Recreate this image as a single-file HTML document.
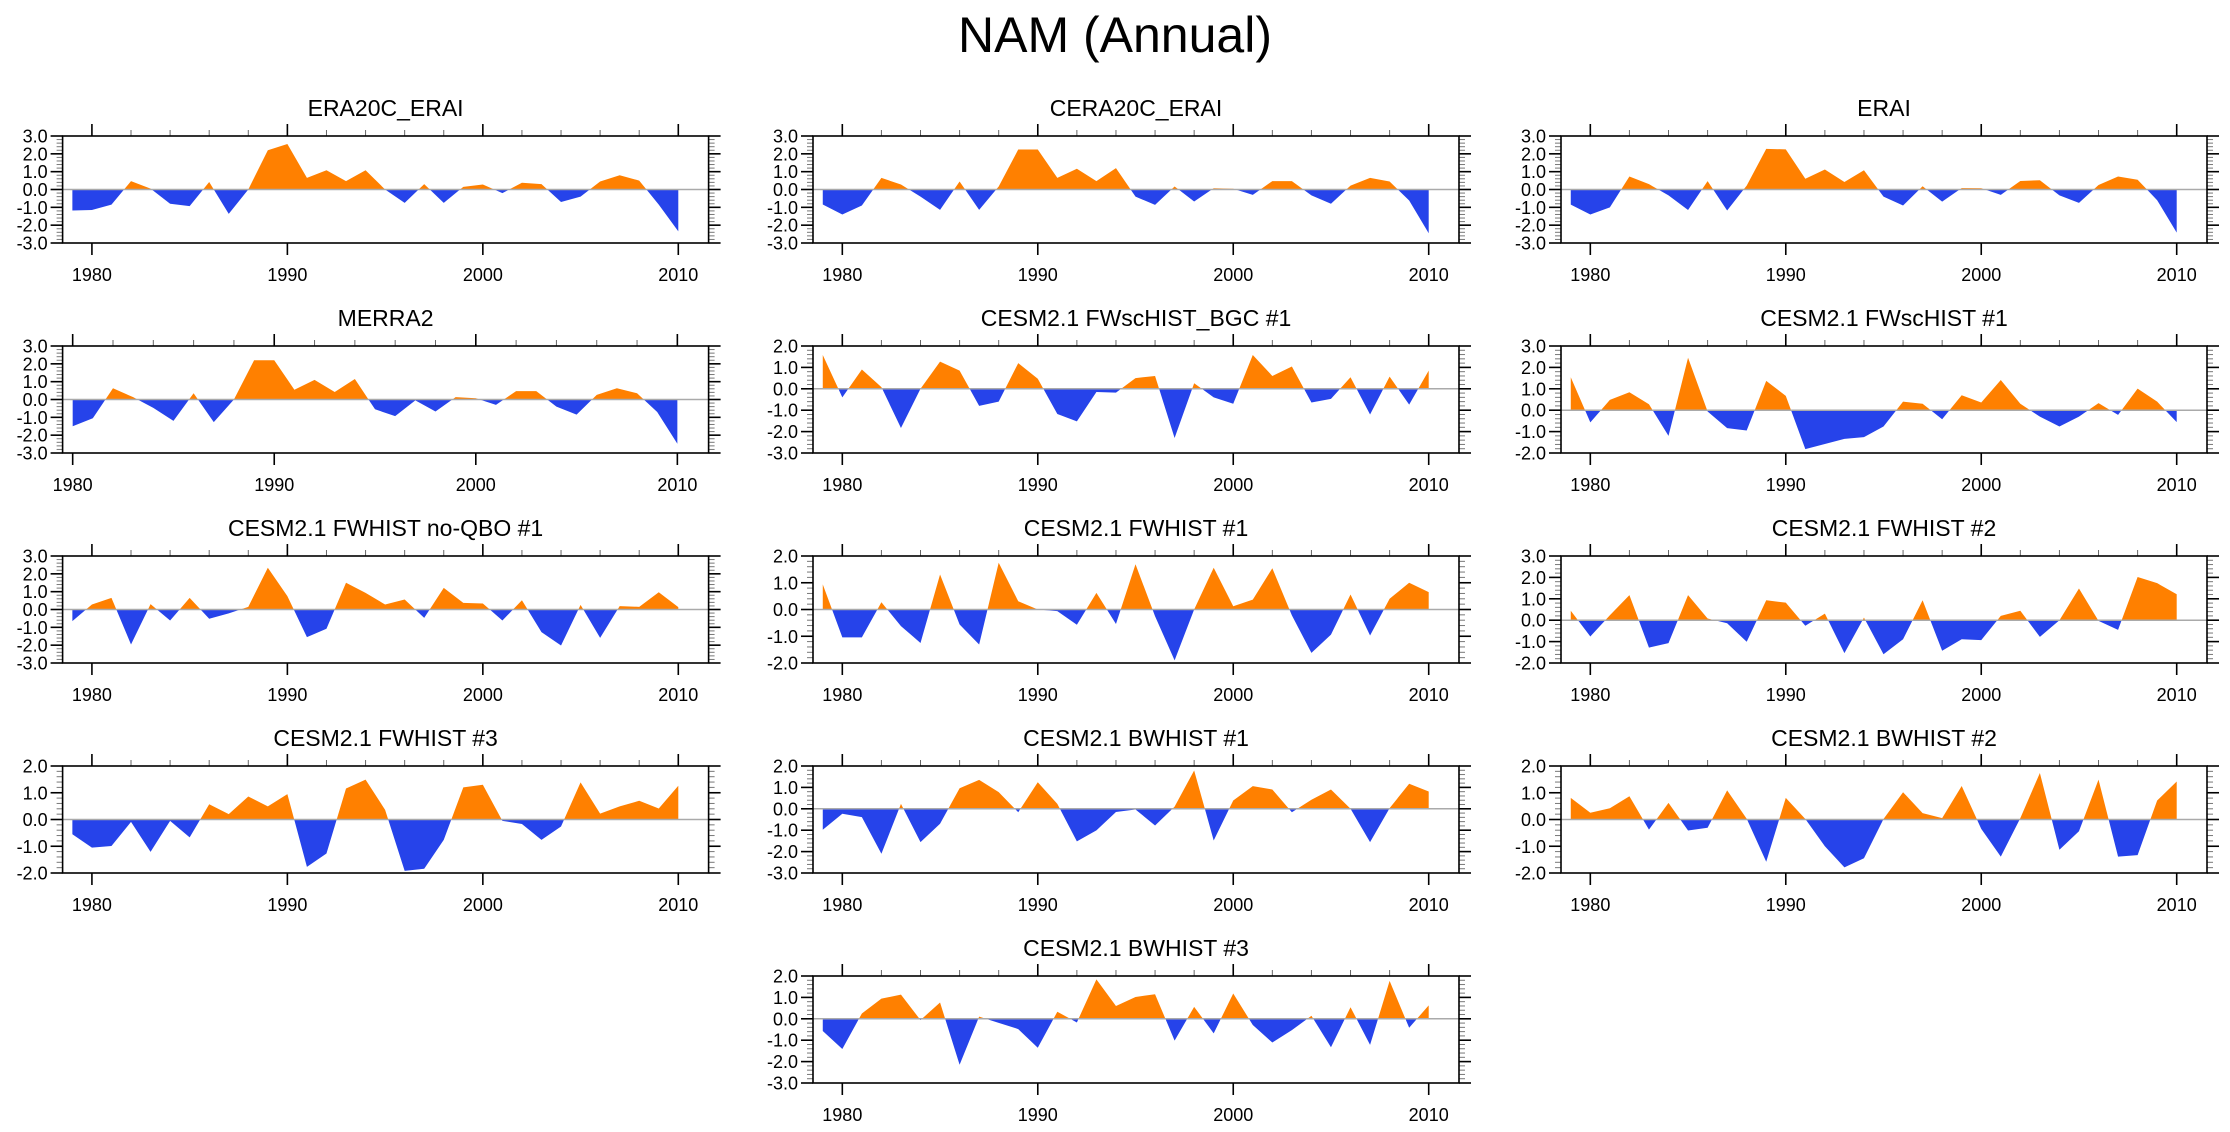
<!DOCTYPE html>
<html><head><meta charset="utf-8"><title>NAM (Annual)</title>
<style>
html,body{margin:0;padding:0;background:#fff;}
svg{display:block;font-family:"Liberation Sans",Arial,sans-serif;}
</style></head>
<body>
<svg id="chart" width="2230" height="1132" viewBox="0 0 2230 1132" xmlns="http://www.w3.org/2000/svg">
<rect x="0" y="0" width="2230" height="1132" fill="#fff"/>
<text x="1115" y="52" font-size="50" text-anchor="middle" fill="#000">NAM (Annual)</text>
</svg>
<script>
const years79 = [1979,1980,1981,1982,1983,1984,1985,1986,1987,1988,1989,1990,1991,1992,1993,1994,1995,1996,1997,1998,1999,2000,2001,2002,2003,2004,2005,2006,2007,2008,2009,2010];
const years80 = [1980,1981,1982,1983,1984,1985,1986,1987,1988,1989,1990,1991,1992,1993,1994,1995,1996,1997,1998,1999,2000,2001,2002,2003,2004,2005,2006,2007,2008,2009,2010];
const xTickLabels = [1980,1990,2000,2010];

const era20c = [-1.18,-1.15,-0.85,0.47,0.05,-0.8,-0.93,0.42,-1.37,0.0,2.2,2.55,0.65,1.08,0.47,1.08,0.0,-0.75,0.3,-0.75,0.15,0.28,-0.2,0.38,0.3,-0.7,-0.4,0.45,0.8,0.5,-0.85,-2.35];
const cera20c = [-0.84,-1.4,-0.9,0.65,0.28,-0.4,-1.14,0.45,-1.14,0.17,2.24,2.24,0.65,1.16,0.47,1.2,-0.4,-0.86,0.17,-0.67,0.07,0.04,-0.3,0.47,0.47,-0.33,-0.8,0.22,0.65,0.45,-0.62,-2.45];
const erai = [-0.85,-1.4,-1.0,0.73,0.3,-0.33,-1.15,0.47,-1.18,0.22,2.28,2.25,0.6,1.12,0.42,1.08,-0.4,-0.9,0.18,-0.68,0.08,0.07,-0.3,0.48,0.52,-0.33,-0.75,0.25,0.73,0.55,-0.6,-2.42];
const merra2 = [-1.5,-1.05,0.63,0.13,-0.47,-1.2,0.35,-1.27,0,2.2,2.2,0.55,1.1,0.42,1.15,-0.55,-0.93,-0.05,-0.67,0.13,0.07,-0.3,0.47,0.47,-0.4,-0.85,0.26,0.63,0.35,-0.7,-2.48];
const fwscBgc1 = [1.58,-0.4,0.9,0.08,-1.83,0,1.27,0.85,-0.8,-0.6,1.2,0.47,-1.18,-1.52,-0.15,-0.18,0.5,0.6,-2.3,0.26,-0.4,-0.7,1.58,0.6,1.04,-0.64,-0.47,0.54,-1.2,0.57,-0.74,0.85];
const fwsc1 = [1.54,-0.57,0.48,0.84,0.28,-1.2,2.45,-0.06,-0.84,-0.95,1.37,0.67,-1.82,-1.58,-1.34,-1.26,-0.76,0.4,0.3,-0.42,0.7,0.36,1.41,0.3,-0.3,-0.76,-0.3,0.33,-0.22,1.01,0.4,-0.56];
const fwNoQbo1 = [-0.65,0.28,0.65,-1.96,0.3,-0.62,0.65,-0.52,-0.22,0.15,2.34,0.75,-1.55,-1.08,1.5,0.93,0.28,0.56,-0.47,1.21,0.37,0.34,-0.62,0.52,-1.27,-2.02,0.26,-1.59,0.19,0.15,0.97,0.13];
const fw1 = [0.94,-1.04,-1.04,0.27,-0.62,-1.25,1.31,-0.56,-1.31,1.75,0.31,0.0,-0.06,-0.57,0.62,-0.54,1.69,-0.25,-1.9,0,1.56,0.12,0.37,1.54,-0.22,-1.62,-0.94,0.56,-0.97,0.4,1.0,0.65];
const fw2 = [0.44,-0.76,0.23,1.17,-1.28,-1.07,1.17,0.08,-0.14,-1.01,0.93,0.82,-0.26,0.31,-1.54,0.12,-1.59,-0.89,0.93,-1.43,-0.89,-0.93,0.2,0.44,-0.78,0.0,1.48,-0.03,-0.45,2.02,1.73,1.21];
const fw3 = [-0.55,-1.05,-0.99,-0.09,-1.21,-0.05,-0.67,0.57,0.2,0.86,0.49,0.95,-1.77,-1.27,1.16,1.49,0.36,-1.92,-1.84,-0.76,1.2,1.3,-0.05,-0.17,-0.76,-0.26,1.39,0.22,0.49,0.7,0.41,1.26];
const bw1 = [-0.98,-0.23,-0.39,-2.1,0.23,-1.56,-0.7,0.96,1.35,0.78,-0.16,1.24,0.23,-1.52,-1.01,-0.15,-0.03,-0.78,0.1,1.79,-1.48,0.39,1.06,0.9,-0.16,0.42,0.9,0,-1.56,0.03,1.17,0.81];
const bw2 = [0.81,0.25,0.42,0.87,-0.38,0.62,-0.41,-0.31,1.09,0.03,-1.58,0.81,0.02,-1.0,-1.79,-1.45,0.02,1.02,0.24,0.05,1.25,-0.35,-1.39,0.05,1.74,-1.13,-0.44,1.49,-1.39,-1.33,0.71,1.42];
const bw3 = [-0.57,-1.41,0.25,0.94,1.13,-0.06,0.76,-2.15,0.1,-0.19,-0.48,-1.35,0.33,-0.17,1.84,0.6,1.02,1.15,-1.02,0.56,-0.68,1.18,-0.29,-1.11,-0.53,0.14,-1.33,0.54,-1.22,1.77,-0.42,0.63];

const panelTitles = ["ERA20C_ERAI","CERA20C_ERAI","ERAI","MERRA2","CESM2.1 FWscHIST_BGC #1","CESM2.1 FWscHIST #1","CESM2.1 FWHIST no-QBO #1","CESM2.1 FWHIST #1","CESM2.1 FWHIST #2","CESM2.1 FWHIST #3","CESM2.1 BWHIST #1","CESM2.1 BWHIST #2","CESM2.1 BWHIST #3"];
const panelSeries = [era20c,cera20c,erai,merra2,fwscBgc1,fwsc1,fwNoQbo1,fw1,fw2,fw3,bw1,bw2,bw3];
const panelYears = [years79,years79,years79,years80,years79,years79,years79,years79,years79,years79,years79,years79,years79];
const panelYMin = [-3,-3,-3,-3,-3,-2,-3,-2,-2,-2,-3,-2,-3];
const panelYMax = [3,3,3,3,2,3,3,2,3,2,2,2,2];

const NS = "http://www.w3.org/2000/svg";
const svg = document.getElementById('chart');
const colLeft = [62.6, 813, 1561];
const rowTop = [136, 346, 556, 766, 976];
const W = 646, H = 107;
const ORANGE = "#FF8000", BLUE = "#2643EA";

function mk(tag, attrs, parent) {
  const e = document.createElementNS(NS, tag);
  for (const k in attrs) e.setAttribute(k, attrs[k]);
  (parent || svg).appendChild(e);
  return e;
}
function fmt(v){ return (v < 0 ? "-" : "") + Math.abs(v).toFixed(1); }

for (let p = 0; p < 13; p++) {
  const row = Math.floor(p / 3);
  const col = p === 12 ? 1 : p % 3;
  const L = colLeft[col], T = rowTop[row], R = L + W, B = T + H;
  const yrs = panelYears[p], vals = panelSeries[p];
  const ymin = panelYMin[p], ymax = panelYMax[p];
  const xmin = yrs[0] - 0.5, xmax = 2011.55;
  const xs = v => L + (v - xmin) / (xmax - xmin) * W;
  const ys = v => B - (v - ymin) / (ymax - ymin) * H;
  const y0 = ys(0);

  const g = mk('g', {});
  
  

  const title = mk('text', {x:(L+R)/2, y:T-20, 'font-size':23, 'text-anchor':'middle', fill:'#000'}, g);
  title.textContent = panelTitles[p];
  
  

  const cidA = 'ca' + p, cidB = 'cb' + p;
  const defs = mk('defs', {}, g);
  const cpA = mk('clipPath', {id:cidA}, defs);
  mk('rect', {x:L, y:T, width:W, height:y0-T}, cpA);
  const cpB = mk('clipPath', {id:cidB}, defs);
  mk('rect', {x:L, y:y0, width:W, height:B-y0}, cpB);

  let pts = xs(yrs[0]).toFixed(2) + ',' + y0.toFixed(2);
  for (let i = 0; i < vals.length; i++) pts += ' ' + xs(yrs[i]).toFixed(2) + ',' + ys(vals[i]).toFixed(2);
  pts += ' ' + xs(yrs[yrs.length-1]).toFixed(2) + ',' + y0.toFixed(2);

  const above = mk('polygon', {points:pts, fill:ORANGE, 'clip-path':'url(#'+cidA+')'}, g);
  
  
  const below = mk('polygon', {points:pts, fill:BLUE, 'clip-path':'url(#'+cidB+')'}, g);
  
  

  const zl = mk('line', {x1:L, x2:R, y1:y0, y2:y0, stroke:'#aaaaaa', 'stroke-width':1.5}, g);
  
  

  const steps = Math.round((ymax - ymin) / 0.2);
  for (let k = 0; k <= steps; k++) {
    const v = ymin + k * 0.2;
    const yy = ys(v);
    const major = k % 5 === 0;
    const len = major ? 12 : 6;
    const sw = major ? 1.6 : 1;
    const col2 = major ? '#000' : '#777';
    mk('line', {x1:L-len, x2:L, y1:yy, y2:yy, stroke:col2, 'stroke-width':sw}, g);
    mk('line', {x1:R, x2:R+len, y1:yy, y2:yy, stroke:col2, 'stroke-width':sw}, g);
    if (major) {
      const lab = mk('text', {x:L-15, y:yy+6.5, 'font-size':18, 'text-anchor':'end', fill:'#000'}, g);
      lab.textContent = fmt(Math.round(v*10)/10);
      
      
    }
  }
  for (let yr = 1978; yr <= 2011; yr += 2) {
    if (yr < xmin || yr > xmax) continue;
    const xx = xs(yr);
    const major = yr % 10 === 0;
    mk('line', {x1:xx, x2:xx, y1:T-(major?12:6), y2:T, stroke: major?'#000':'#666', 'stroke-width':major?1.6:1}, g);
    if (major) mk('line', {x1:xx, x2:xx, y1:B, y2:B+12, stroke:'#000', 'stroke-width':1.6}, g);
  }
  for (const t of xTickLabels) {
    const lab = mk('text', {x:xs(t), y:B+38, 'font-size':18, 'text-anchor':'middle', fill:'#000'}, g);
    lab.textContent = String(t);
    
    
  }
  const fr = mk('rect', {x:L, y:T, width:W, height:H, fill:'none', stroke:'#000', 'stroke-width':1.6}, g);
  
  
}
</script>
</body></html>
